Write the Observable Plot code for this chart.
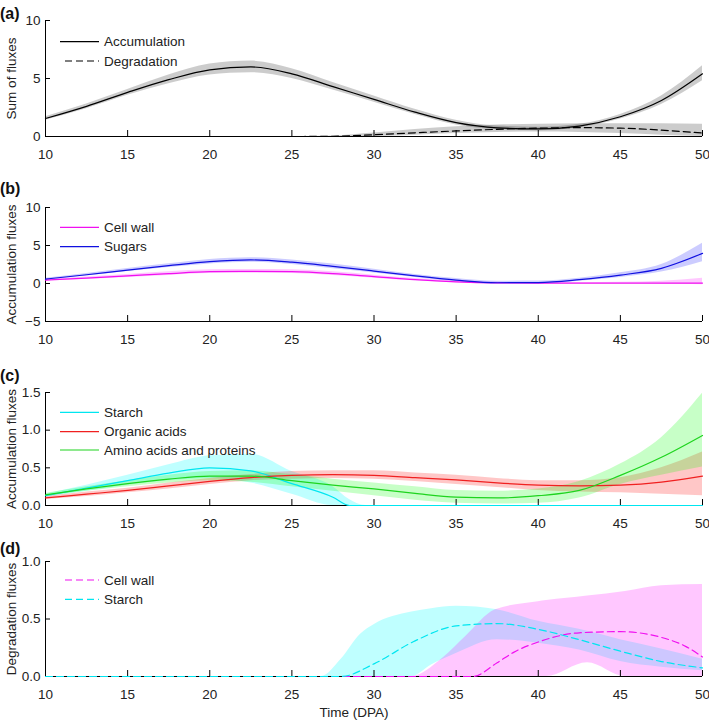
<!DOCTYPE html>
<html>
<head>
<meta charset="utf-8">
<script src="https://cdn.jsdelivr.net/npm/d3@7"></script>
<script src="https://cdn.jsdelivr.net/npm/@observablehq/plot@0.6"></script>
<style>
  html, body { margin: 0; padding: 0; background: #fff; }
  #root { position: relative; width: 709px; height: 722px; font-family: "Liberation Sans", Arial, sans-serif; color: #222; }
  #root > svg, #root > div { position: absolute; left: 0; }
</style>
</head>
<body>
<div id="root"></div>
<script>
// ---------- data ----------
const T = [10,12.5,15,17.5,20,22.5,25,27.5,30,32.5,35,37.5,40,42.5,45,47.5,50];
const xTicks = [10,15,20,25,30,35,40,45,50];

// (a) sums of fluxes
const accum   = [1.55,2.6,3.8,4.9,5.75,6.0,5.4,4.3,3.2,2.1,1.2,0.75,0.65,0.9,1.7,3.1,5.4];
const accumLo = [1.4,2.4,3.55,4.55,5.3,5.5,5.0,4.0,2.95,1.9,1.0,0.6,0.5,0.75,1.5,2.75,4.8];
const accumHi = [1.7,2.8,4.05,5.3,6.25,6.5,5.85,4.65,3.5,2.35,1.4,0.9,0.8,1.05,1.9,3.5,6.1];
const degr    = [0,0,0,0,0,0,0,0.02,0.15,0.32,0.48,0.62,0.72,0.76,0.72,0.55,0.3];
const degrLo  = [0,0,0,0,0,0,0,0,0,0.1,0.25,0.35,0.38,0.35,0.25,0.1,0];
const degrHi  = [0,0,0,0,0,0,0,0.05,0.3,0.6,0.85,1.0,1.05,1.1,1.1,1.1,1.05];
const ticksA = [0,5,10];

// (b) accumulation fluxes
const sugars    = [0.58,1.15,1.77,2.35,2.87,3.1,2.8,2.25,1.64,1.0,0.45,0.1,0.12,0.5,1.1,2.0,3.97];
const sugarsLo  = [0.48,1.0,1.57,2.1,2.57,2.8,2.5,1.95,1.39,0.8,0.25,-0.1,-0.08,0.3,0.8,1.5,2.87];
const sugarsHi  = [0.68,1.3,1.97,2.6,3.17,3.4,3.1,2.55,1.89,1.2,0.65,0.3,0.32,0.7,1.4,2.5,5.3];
const cellWall   = [0.45,0.72,1.0,1.3,1.55,1.6,1.55,1.3,0.9,0.5,0.22,0.08,0.05,0.05,0.05,0.05,0.05];
const cellWallLo = [0.35,0.57,0.8,1.05,1.3,1.35,1.3,1.05,0.7,0.35,0.1,0,0,0,0,-0.05,-0.15];
const cellWallHi = [0.55,0.87,1.2,1.55,1.8,1.85,1.8,1.55,1.1,0.65,0.34,0.18,0.1,0.1,0.15,0.3,0.7];
const ticksB = [-5,0,5,10];

// (c) accumulation fluxes
const starchT    = [10,12.5,15,17.5,20,22.5,25,27.5,28.5,29.5,50];
const starchAcc   = [0.13,0.23,0.33,0.43,0.5,0.46,0.29,0.11,0,0,0];
const starchAccLo = [0.11,0.19,0.27,0.33,0.36,0.3,0.15,0,0,0,0];
const starchAccHi = [0.15,0.27,0.4,0.54,0.66,0.68,0.45,0.25,0.08,0,0];
const organic   = [0.1,0.15,0.2,0.26,0.32,0.37,0.4,0.41,0.4,0.37,0.34,0.3,0.27,0.26,0.27,0.31,0.39];
const organicLo = [0.08,0.12,0.17,0.22,0.28,0.33,0.35,0.36,0.35,0.32,0.28,0.24,0.2,0.18,0.17,0.15,0.13];
const organicHi = [0.12,0.18,0.23,0.3,0.36,0.41,0.45,0.46,0.46,0.43,0.4,0.36,0.33,0.33,0.37,0.5,0.71];
const amino   = [0.14,0.22,0.29,0.35,0.39,0.39,0.33,0.27,0.22,0.16,0.11,0.1,0.13,0.2,0.4,0.64,0.93];
const aminoLo = [0.12,0.19,0.25,0.3,0.33,0.31,0.25,0.19,0.13,0.07,0.03,0.02,0.03,0.1,0.28,0.4,0.51];
const aminoHi = [0.16,0.25,0.33,0.4,0.45,0.46,0.41,0.35,0.3,0.25,0.2,0.19,0.22,0.32,0.55,0.9,1.49];
const ticksC = [0,0.5,1,1.5];

// (d) degradation fluxes
const cwDegT  = [10,36,37.5,38.5,40,42.5,45,47.5,49,50];
const cwDeg   = [0,0,0.12,0.21,0.3,0.38,0.39,0.34,0.26,0.17];
const cwBandT = [10,32.3,34.2,35.6,37.4,40,40.5,43,45.3,47.5,50];
const cwDegLo = [0,0,0,0,0,0,0,0.12,0,0,0];
const cwDegHi = [0,0,0.16,0.35,0.58,0.65,0.66,0.7,0.74,0.79,0.8];
const stDegT  = [10,28,30,32.5,35,37.5,40,42.5,45,47.5,50];
const stDeg   = [0,0,0.11,0.31,0.44,0.46,0.41,0.32,0.22,0.13,0.075];
const stBandT = [10,26.8,28,29.2,30,32.3,33.5,35,37.5,40,42.5,45,47.5,50];
const stDegLo = [0,0,0,0,0,0,0.1,0.2,0.32,0.29,0.23,0.13,0.08,0.05];
const stDegHi = [0,0,0.15,0.37,0.45,0.56,0.59,0.61,0.58,0.48,0.41,0.32,0.24,0.15];
const ticksD = [0,0.5,1];

// legend labels
const legA = ["Accumulation", "Degradation"];
const legB = ["Cell wall", "Sugars"];
const legC = ["Starch", "Organic acids", "Amino acids and proteins"];
const legD = ["Cell wall", "Starch"];

// ---------- helpers ----------
const FONT = "'Liberation Sans', Arial, sans-serif";
const C = {k:"#000000", m:"#f010f0", b:"#1010e0", c:"#00e6f0", r:"#f02020", g:"#1ed41e"};
const BAND = {k:"#000000", m:"#ff00ff", b:"#0000ff", c:"#00ffff", r:"#ff0000", g:"#00ff00"};

const rows = (t, v) => t.map((x, i) => ({t: x, v: v[i]}));
const band = (t, lo, hi) => t.map((x, i) => ({t: x, lo: lo[i], hi: hi[i]}));

const root = document.getElementById("root");

function panel({top, plotH, yDomain, yTicks, ylabel, bands, lines}) {
  const marks = [];
  for (const b of bands) {
    marks.push(Plot.areaY(b.data, {x: "t", y1: "lo", y2: "hi", fill: BAND[b.c], fillOpacity: b.op ?? 0.24, curve: "monotone-x"}));
  }
  marks.push(Plot.ruleY([yDomain[0]], {stroke: "#000", strokeWidth: 1}));
  marks.push(Plot.ruleX([10], {stroke: "#000", strokeWidth: 1}));
  marks.push(Plot.axisX({ticks: xTicks, tickSize: 6, dy: -6, tickFormat: () => "", label: null, stroke: "#000"}));
  marks.push(Plot.axisX({ticks: xTicks, tickSize: 0, tickPadding: 13, label: null, fill: "#222"}));
  marks.push(Plot.axisY({ticks: yTicks, tickSize: 5, dx: 5, tickFormat: () => "", label: null, stroke: "#000"}));
  marks.push(Plot.axisY({ticks: yTicks, tickSize: 0, tickPadding: 5, label: ylabel, labelAnchor: "center", labelOffset: 39, labelArrow: "none", fill: "#222"}));
  for (const l of lines) {
    marks.push(Plot.line(l.data, {x: "t", y: "v", stroke: C[l.c], strokeWidth: 1.2, strokeDasharray: l.dash ? "7,4" : null, curve: "monotone-x"}));
  }
  const svg = Plot.plot({
    width: 709, height: 20 + plotH + 30,
    marginTop: 20, marginBottom: 30, marginLeft: 45, marginRight: 7,
    x: {domain: [10, 50]},
    y: {domain: yDomain},
    style: {fontFamily: FONT, fontSize: "13.5px", background: "transparent", overflow: "visible"},
    marks
  });
  svg.style.position = "absolute";
  svg.style.top = top + "px";
  svg.style.left = "0px";
  root.appendChild(svg);
}

panel({top: 0, plotH: 116, yDomain: [0, 10], yTicks: ticksA, ylabel: "Sum of fluxes",
  bands: [{data: band(T, accumLo, accumHi), c: "k", op: 0.2}, {data: band(T, degrLo, degrHi), c: "k", op: 0.2}],
  lines: [{data: rows(T, accum), c: "k"}, {data: rows(T, degr), c: "k", dash: true}]});

panel({top: 187, plotH: 114, yDomain: [-5, 10], yTicks: ticksB, ylabel: "Accumulation fluxes",
  bands: [{data: band(T, cellWallLo, cellWallHi), c: "m", op: 0.22}, {data: band(T, sugarsLo, sugarsHi), c: "b", op: 0.2}],
  lines: [{data: rows(T, cellWall), c: "m"}, {data: rows(T, sugars), c: "b"}]});

panel({top: 372, plotH: 113, yDomain: [0, 1.5], yTicks: ticksC, ylabel: "Accumulation fluxes",
  bands: [{data: band(starchT, starchAccLo, starchAccHi), c: "c", op: 0.25},
          {data: band(T, organicLo, organicHi), c: "r", op: 0.22},
          {data: band(T, aminoLo, aminoHi), c: "g", op: 0.22}],
  lines: [{data: rows(starchT, starchAcc), c: "c"}, {data: rows(T, organic), c: "r"}, {data: rows(T, amino), c: "g"}]});

panel({top: 541, plotH: 115, yDomain: [0, 1], yTicks: ticksD, ylabel: "Degradation fluxes",
  bands: [{data: band(stBandT, stDegLo, stDegHi), c: "c", op: 0.25}, {data: band(cwBandT, cwDegLo, cwDegHi), c: "m", op: 0.22}],
  lines: [{data: rows(cwDegT, cwDeg), c: "m", dash: true}, {data: rows(stDegT, stDeg), c: "c", dash: true}]});

// ---------- overlay: panel letters, legends, x label ----------
const ov = d3.select(root).append("svg")
  .attr("width", 709).attr("height", 722)
  .style("position", "absolute").style("top", "0px").style("left", "0px")
  .style("pointer-events", "none")
  .style("font-family", FONT);

const letters = [["(a)", 19], ["(b)", 194], ["(c)", 381], ["(d)", 554]];
for (const [s, y] of letters) {
  ov.append("text").attr("x", 0).attr("y", y).attr("font-size", 16).attr("font-weight", "bold").attr("fill", "#111").text(s);
}

function legend(labels, colors, dashes, ys) {
  labels.forEach((lab, i) => {
    const x1 = dashes[i] ? 65 : 60;
    ov.append("line").attr("x1", x1).attr("x2", 99).attr("y1", ys[i]).attr("y2", ys[i])
      .attr("stroke", colors[i]).attr("stroke-width", 1.2)
      .attr("stroke-dasharray", dashes[i] ? "7,4" : null);
    ov.append("text").attr("x", 104).attr("y", ys[i]).attr("dy", "0.35em")
      .attr("font-size", 13.5).attr("fill", "#222").text(lab);
  });
}
legend(legA, [C.k, C.k], [false, true], [41.7, 61]);
legend(legB, [C.m, C.b], [false, false], [227.3, 246.7]);
legend(legC, [C.c, C.r, C.g], [false, false, false], [412.3, 431.7, 450]);
legend(legD, [C.m, C.c], [true, true], [580, 599.3]);

ov.append("text").attr("x", 354).attr("y", 712).attr("dy", "0.35em").attr("text-anchor", "middle")
  .attr("font-size", 13.5).attr("fill", "#222").text("Time (DPA)");
</script>
</body>
</html>
